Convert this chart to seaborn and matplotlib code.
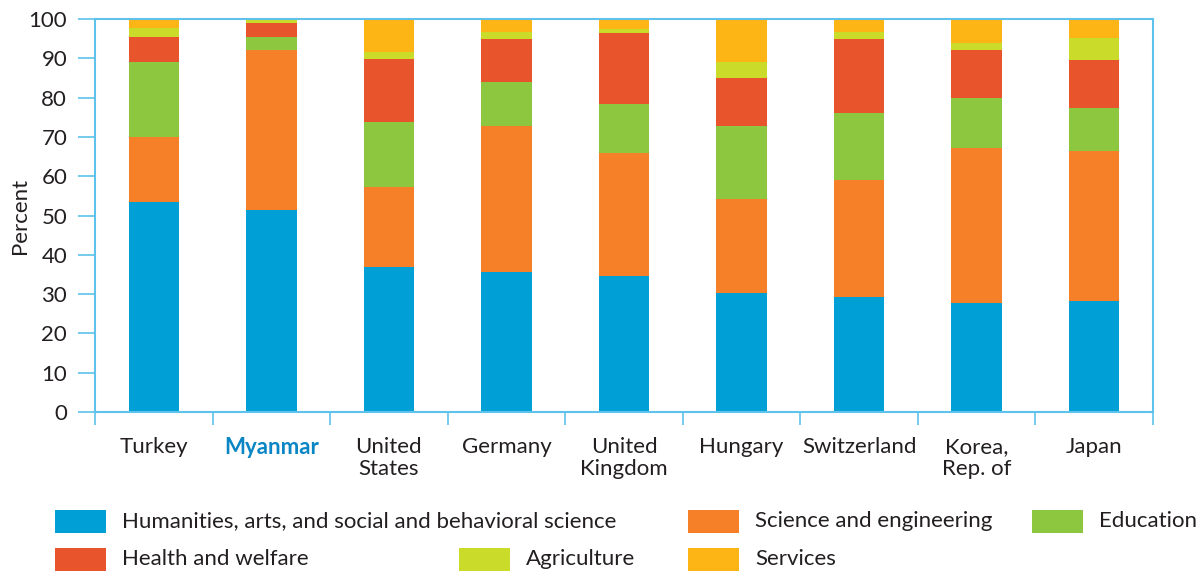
import matplotlib
matplotlib.use("Agg")
import matplotlib.pyplot as plt
import seaborn as sns
import numpy as np
from matplotlib.patches import Rectangle

# Share of tertiary graduates by field of study (percent)
countries = ["Turkey", "Myanmar", "United\nStates", "Germany", "United\nKingdom",
             "Hungary", "Switzerland", "Korea,\nRep. of", "Japan"]
fields = ["Humanities, arts, and social and behavioral science",
          "Science and engineering", "Education", "Health and welfare",
          "Agriculture", "Services"]
humanities = [53.5, 51.5, 36.9, 35.6, 34.6, 30.3, 29.3, 27.7, 28.3]
science = [16.5, 40.7, 20.4, 37.3, 31.3, 23.9, 29.8, 39.6, 38.2]
education = [19.1, 3.2, 16.5, 11.1, 12.5, 18.7, 17.0, 12.7, 10.9]
health = [6.3, 3.6, 16.0, 10.9, 18.0, 12.1, 18.8, 12.2, 12.2]
agriculture = [2.4, 0.8, 1.8, 1.9, 1.1, 4.1, 1.9, 1.8, 5.6]
services = [2.2, 0.2, 8.4, 3.2, 2.5, 10.9, 3.2, 6.0, 4.8]
y_ticks = list(range(0, 101, 10))

colors = ["#00A0D6", "#F58028", "#8DC63F", "#E8542B", "#CBDB2A", "#FDB515"]
frame_color = "#5EC2EA"
text_color = "#231F20"

sns.set_theme(style="white")
plt.rcParams["font.family"] = ["Lato", "DejaVu Sans"]
FS = 16

fig = plt.figure(figsize=(12.04, 5.73), dpi=100)
ax = fig.add_axes([95 / 1204, 1 - 412 / 573, (1153 - 95) / 1204, (412 - 19) / 573])

layers = np.array([humanities, science, education, health, agriculture, services])
cumulative = layers.cumsum(axis=0)

# stacked bars: draw the tallest cumulative layer first, then overlay lower ones
for i in reversed(range(len(fields))):
    sns.barplot(x=countries, y=cumulative[i], order=countries, color=colors[i],
                saturation=1, width=0.43, linewidth=0, ax=ax)

ax.set_xlim(-0.5, len(countries) - 0.5)
ax.set_ylim(0, 100)
ax.set_yticks(y_ticks)
ax.set_yticklabels([str(t) for t in y_ticks], fontsize=FS, color=text_color)
ax.set_ylabel("Percent", fontsize=FS, color=text_color)
ax.yaxis.set_label_coords(-0.061, 0.5)
ax.set_xlabel("")

ax.set_xticks(range(len(countries)))
ax.set_xticklabels(countries, fontsize=FS, color=text_color, linespacing=1.12)
ax.set_xticks(np.arange(-0.5, len(countries), 1.0), minor=True)
ax.tick_params(axis="x", which="major", length=0, pad=18)
ax.tick_params(axis="x", which="minor", length=9, width=1.2, color=frame_color, direction="out")
ax.tick_params(axis="y", length=12, width=1.2, color=frame_color, direction="out", pad=8)
ax.tick_params(left=True, bottom=True, which="both")

for lab in ax.get_xticklabels():
    if lab.get_text() == "Myanmar":
        lab.set_color("#0A86C4")
        lab.set_fontweight("bold")

for side in ["left", "right", "top", "bottom"]:
    ax.spines[side].set_visible(True)
    ax.spines[side].set_color(frame_color)
    ax.spines[side].set_linewidth(1.5)
ax.grid(False)

# legend laid out in two rows
W, H = 1204, 573
legend_items = [
    (0, 55, 521), (1, 688, 521), (2, 1032, 521),
    (3, 55, 559), (4, 459, 559), (5, 688, 559),
]
sw, sh = 51, 23
for idx, x0, yc in legend_items:
    fig.patches.append(Rectangle((x0 / W, 1 - (yc + sh / 2) / H), sw / W, sh / H,
                                 transform=fig.transFigure, facecolor=colors[idx],
                                 edgecolor="none"))
    fig.text((x0 + sw + 16) / W, 1 - yc / H, fields[idx], fontsize=FS,
             color=text_color, va="center", ha="left")

fig.savefig("out.png", dpi=100)
